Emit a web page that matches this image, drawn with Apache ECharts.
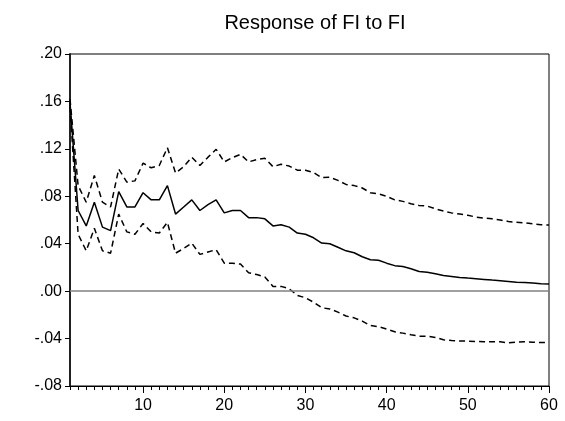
<!DOCTYPE html>
<html>
<head>
<meta charset="utf-8">
<script src="https://cdn.jsdelivr.net/npm/echarts@6/dist/echarts.min.js"></script>
<style>
    html, body { margin: 0; padding: 0; background: #fff; }
    #chart { width: 565px; height: 421px; }
</style>
</head>
<body>
<div id="chart"></div>
<script>
// periods 1..60
const periods = [];
for (let i = 1; i <= 60; i++) periods.push(String(i));

// impulse response (solid)
const response = [
    0.159, 0.068, 0.055, 0.075, 0.054, 0.051, 0.084, 0.071, 0.071, 0.083,
    0.077, 0.077, 0.089, 0.065, 0.071, 0.077, 0.068, 0.073, 0.077, 0.066,
    0.068, 0.068, 0.062, 0.062, 0.061, 0.055, 0.056, 0.054, 0.049, 0.048,
    0.045, 0.0405, 0.040, 0.037, 0.034, 0.0324, 0.029, 0.0265, 0.026, 0.0236,
    0.0215, 0.0208, 0.0189, 0.0166, 0.016, 0.0147, 0.0132, 0.0124, 0.0116, 0.011,
    0.0105, 0.0099, 0.0093, 0.0088, 0.0082, 0.0076, 0.0073, 0.0068, 0.0062, 0.006
];

// +/- 2 s.e. bands (dashed)
const upperBand = [
    0.162, 0.089, 0.075, 0.0976, 0.075, 0.071, 0.103, 0.092, 0.093, 0.108,
    0.104, 0.106, 0.121, 0.0996, 0.105, 0.113, 0.106, 0.113, 0.1196, 0.109,
    0.1126, 0.1154, 0.109, 0.111, 0.112, 0.105, 0.107, 0.1055, 0.102, 0.102,
    0.100, 0.0957, 0.096, 0.0934, 0.090, 0.089, 0.087, 0.083, 0.082, 0.080,
    0.077, 0.0757, 0.0737, 0.0723, 0.0717, 0.0695, 0.0675, 0.066, 0.065, 0.064,
    0.0625, 0.0616, 0.061, 0.060, 0.0588, 0.058, 0.0577, 0.0568, 0.056, 0.0557
];
const lowerBand = [
    0.156, 0.048, 0.034, 0.053, 0.034, 0.032, 0.065, 0.050, 0.048, 0.057,
    0.050, 0.049, 0.058, 0.032, 0.036, 0.0405, 0.031, 0.033, 0.035, 0.0236,
    0.0236, 0.0228, 0.0155, 0.014, 0.012, 0.004, 0.004, 0.002, -0.0036, -0.0056,
    -0.0093, -0.014, -0.015, -0.0177, -0.021, -0.0225, -0.0253, -0.029, -0.030, -0.032,
    -0.0343, -0.0354, -0.0368, -0.038, -0.038, -0.039, -0.041, -0.0416, -0.042, -0.0422,
    -0.0424, -0.0427, -0.0427, -0.0427, -0.0436, -0.043, -0.0427, -0.043, -0.0433, -0.0433
];

const yMin = -0.08;
const yMax = 0.20;
const yStep = 0.04;

const font = 'Liberation Sans, Arial, sans-serif';

const chart = echarts.init(document.getElementById('chart'));

const isMajor = (index) => (index + 1) % 10 === 0;

const option = {
    animation: false,
    title: {
        text: 'Response of FI to FI',
        left: 310,
        textAlign: 'center',
        top: 8,
        textStyle: { fontFamily: font, fontSize: 20, fontWeight: 'normal', color: '#000' }
    },
    grid: {
        left: 70, right: 16, top: 54, bottom: 35,
        show: true,
        borderColor: '#000',
        borderWidth: 1
    },
    xAxis: [
        {
            // minor ticks, every period
            type: 'category',
            data: periods,
            boundaryGap: false,
            axisLine: { onZero: false, lineStyle: { color: '#000', width: 1 } },
            axisTick: { interval: 0, length: 4, lineStyle: { color: '#000' } },
            axisLabel: { show: false },
            splitLine: { show: false }
        },
        {
            // major ticks + labels
            type: 'category',
            data: periods,
            position: 'bottom',
            boundaryGap: false,
            axisLine: { show: false, onZero: false },
            axisTick: { interval: isMajor, length: 7, lineStyle: { color: '#000' } },
            axisLabel: {
                interval: isMajor,
                margin: 12,
                color: '#000',
                fontFamily: font,
                fontSize: 16
            },
            splitLine: { show: false }
        }
    ],
    yAxis: {
        type: 'value',
        min: yMin,
        max: yMax,
        interval: yStep,
        axisLine: { show: true, lineStyle: { color: '#222', width: 2 } },
        axisTick: { show: true, length: 5, lineStyle: { color: '#000' } },
        splitLine: { show: false },
        axisLabel: {
            margin: 8,
            color: '#000',
            fontFamily: font,
            fontSize: 16,
            formatter: (v) => v.toFixed(2).replace('0.', '.')
        }
    },
    series: [
        {
            type: 'line',
            data: response,
            symbol: 'none',
            lineStyle: { color: '#000', width: 1.5 },
            z: 3,
            markLine: {
                silent: true,
                symbol: 'none',
                label: { show: false },
                lineStyle: { color: '#808080', width: 1.5, type: 'solid' },
                data: [{ yAxis: 0 }]
            }
        },
        {
            type: 'line',
            data: upperBand,
            symbol: 'none',
            lineStyle: { color: '#000', width: 1.5, type: [6, 4] }
        },
        {
            type: 'line',
            data: lowerBand,
            symbol: 'none',
            lineStyle: { color: '#000', width: 1.5, type: [6, 4] }
        }
    ]
};

chart.setOption(option);
</script>
</body>
</html>
